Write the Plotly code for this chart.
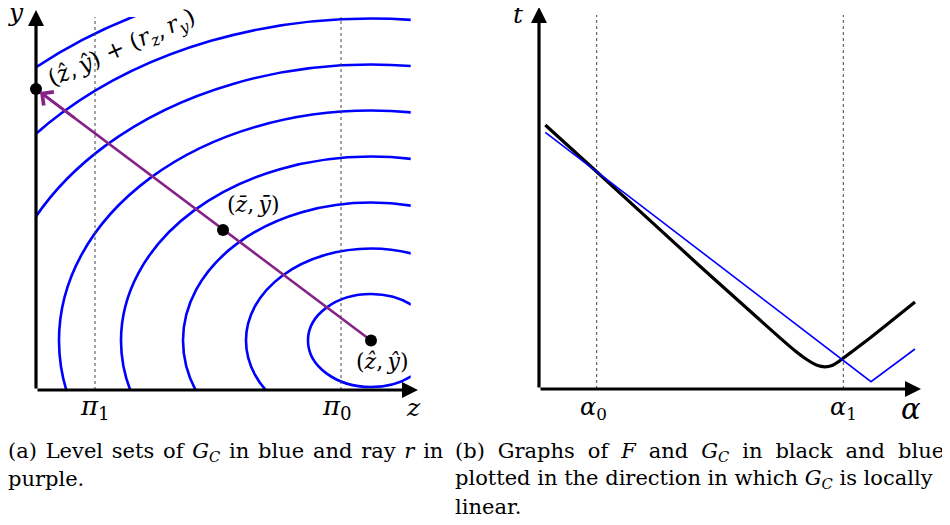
import plotly.graph_objects as go

# ---- panel (a): level sets of G_C and the ray r ----
z_hat, y_hat = 3.35, 0.495          # (z^, y^)
z_bar, y_bar = 1.87, 1.60           # (z-bar, y-bar)
ray_end_z, ray_end_y = 0.0, 3.01    # (z^, y^) + (r_z, r_y)
level_a = [0.63, 1.25, 1.88, 2.50, 3.12, 3.75, 4.37, 5.00]   # half widths of the level sets
level_b = [0.465, 0.92, 1.38, 1.84, 2.30, 2.76, 3.22, 3.68]  # half heights of the level sets
pi1, pi0 = 0.59, 3.05

# ---- panel (b): F (black) and G_C (blue) along the direction ----
alpha_F = [0.063, 0.577, 1.61, 2.21, 2.41, 2.56, 2.67, 2.78, 2.86, 2.93, 3.0, 3.11, 3.31, 3.76]
t_F = [2.64, 2.173, 1.228, 0.69, 0.511, 0.382, 0.300, 0.237, 0.222, 0.236, 0.277, 0.359, 0.51, 0.87]
alpha_G = [0.063, 0.577, 3.32, 3.76]
t_G = [2.567, 2.173, 0.073, 0.40]
alpha0, alpha1 = 0.577, 3.043

BLUE = "#0000ff"
PURPLE = "#862386"
SERIF = "DejaVu Serif, Liberation Serif, serif"

# the page puts the figure 8px in from the top-left corner
OFF = 8
W, H = 950 - OFF, 525 - OFF


def px_x(px):
    return (px - OFF) / W


def px_y(py):
    return 1 - (py - OFF) / H


fig = go.Figure()

# level sets
for a, b in zip(level_a, level_b):
    fig.add_shape(type="circle", xref="x", yref="y", layer="below",
                  x0=z_hat - a, x1=z_hat + a, y0=y_hat - b, y1=y_hat + b,
                  line=dict(color=BLUE, width=2.6))

# dotted guides
for zz in [pi1, pi0]:
    fig.add_trace(go.Scatter(x=[zz, zz], y=[0, 3.73], mode="lines", xaxis="x", yaxis="y",
                             line=dict(color="#444", width=1, dash="dot"), hoverinfo="skip"))
for aa in [alpha0, alpha1]:
    fig.add_trace(go.Scatter(x=[aa, aa], y=[0, 3.74], mode="lines", xaxis="x2", yaxis="y2",
                             line=dict(color="#444", width=1, dash="dot"), hoverinfo="skip"))

# ray r
fig.add_trace(go.Scatter(x=[z_hat, ray_end_z], y=[y_hat, ray_end_y], mode="lines",
                         xaxis="x", yaxis="y", line=dict(color=PURPLE, width=2.6), hoverinfo="skip"))
fig.add_annotation(x=ray_end_z + 0.04, y=ray_end_y - 0.03, ax=0.4, ay=ray_end_y - 0.3,
                   xref="x", yref="y", axref="x", ayref="y", text="",
                   showarrow=True, arrowhead=4, arrowsize=1.25, arrowwidth=2.6,
                   arrowcolor=PURPLE, standoff=0)

# points
fig.add_trace(go.Scatter(x=[z_hat, z_bar, ray_end_z], y=[y_hat, y_bar, ray_end_y], mode="markers",
                         xaxis="x", yaxis="y", cliponaxis=False,
                         marker=dict(color="black", size=12), hoverinfo="skip"))

# F and G_C
fig.add_trace(go.Scatter(x=alpha_F, y=t_F, mode="lines", xaxis="x2", yaxis="y2",
                         line=dict(color="black", width=3.2, shape="spline", smoothing=0.6),
                         hoverinfo="skip"))
fig.add_trace(go.Scatter(x=alpha_G, y=t_G, mode="lines", xaxis="x2", yaxis="y2",
                         line=dict(color=BLUE, width=1.6), hoverinfo="skip"))


# axes with arrow heads
def axis_arrow(xr, yr, x0, y0, x1, y1):
    fig.add_annotation(x=x1, y=y1, ax=x0, ay=y0, xref=xr, yref=yr, axref=xr, ayref=yr, text="",
                       showarrow=True, arrowhead=2, arrowsize=1.0, arrowwidth=3.2,
                       arrowcolor="black", standoff=0)


axis_arrow("x", "y", 0, 0, 3.82, 0)
axis_arrow("x", "y", 0, 0, 0, 3.80)
axis_arrow("x2", "y2", 0, 0, 3.82, 0)
axis_arrow("x2", "y2", 0, 0, 0, 3.82)


def label(px, py, txt, size, xref="paper", x=None, angle=0):
    fig.add_annotation(x=px_x(px) if x is None else x, y=px_y(py), xref=xref, yref="paper",
                       xanchor="center", yanchor="middle",
                       showarrow=False, text=txt, textangle=angle,
                       font=dict(family=SERIF, size=size, color="black"))


# tick-like labels
label(0, 407, "<i>π</i><sub>1</sub>", 26, xref="x", x=pi1)
label(0, 407, "<i>π</i><sub>0</sub>", 26, xref="x", x=pi0 - 0.04)
label(0, 408, "<i>α</i><sub>0</sub>", 24, xref="x2", x=alpha0 - 0.03)
label(0, 408, "<i>α</i><sub>1</sub>", 24, xref="x2", x=alpha1)
# axis names
label(16, 13, "<i>y</i>", 25)
label(413, 407, "<i>z</i>", 25)
label(518, 15, "<i>t</i>", 25)
label(911, 409, "<i>α</i>", 29)
# point labels
label(253, 205, "(<i>z&#772;</i>,&#8201;<i>y&#772;</i>)", 22)
label(382, 361, "(<i>z&#770;</i>,&#8201;<i>y&#770;</i>)", 22)
label(122, 49, "(<i>z&#770;</i>,&#8201;<i>y&#770;</i>) + (<i>r</i><sub><i>z</i></sub>,&#8201;"
               "<i>r</i><sub><i>y</i></sub>)", 23, angle=-24)

# captions (the reference is justified, so some gaps are widened)
gap_a = " &#8202;"
gap_b = " &#8201;&#8202;"
captions = [
    (6, 452, gap_a.join(["(a)", "Level", "sets", "of", "<i>G</i><sub><i>C</i></sub>", "in", "blue",
                         "and", "ray", "<i>r</i>", "in"])),
    (6, 479, "purple."),
    (453, 452, gap_b.join(["(b)", "Graphs", "of", "<i>F</i>", "and", "<i>G</i><sub><i>C</i></sub>",
                           "in", "black", "and", "blue"])),
    (453, 479, "plotted in the direction in which <i>G</i><sub><i>C</i></sub> is locally"),
    (453, 507, "linear."),
]
for px, py, txt in captions:
    fig.add_annotation(x=px_x(px), y=px_y(py), xref="paper", yref="paper", xanchor="left",
                       yanchor="middle", showarrow=False, text=txt,
                       font=dict(family=SERIF, size=21, color="black"))

hidden = dict(visible=False, showgrid=False, zeroline=False)
fig.update_layout(
    width=W, height=H, margin=dict(l=0, r=0, t=0, b=0),
    paper_bgcolor="white", plot_bgcolor="white", showlegend=False,
    xaxis=dict(domain=[px_x(36), px_x(410.7)], range=[0, 3.747], **hidden),
    yaxis=dict(domain=[px_y(390), px_y(17)], range=[0, 3.73], **hidden),
    xaxis2=dict(domain=[px_x(539), px_x(921)], range=[0, 3.82], anchor="y2", **hidden),
    yaxis2=dict(domain=[px_y(389), 1], range=[0, 3.81], anchor="x2", **hidden),
)

fig.write_html("out.html")
